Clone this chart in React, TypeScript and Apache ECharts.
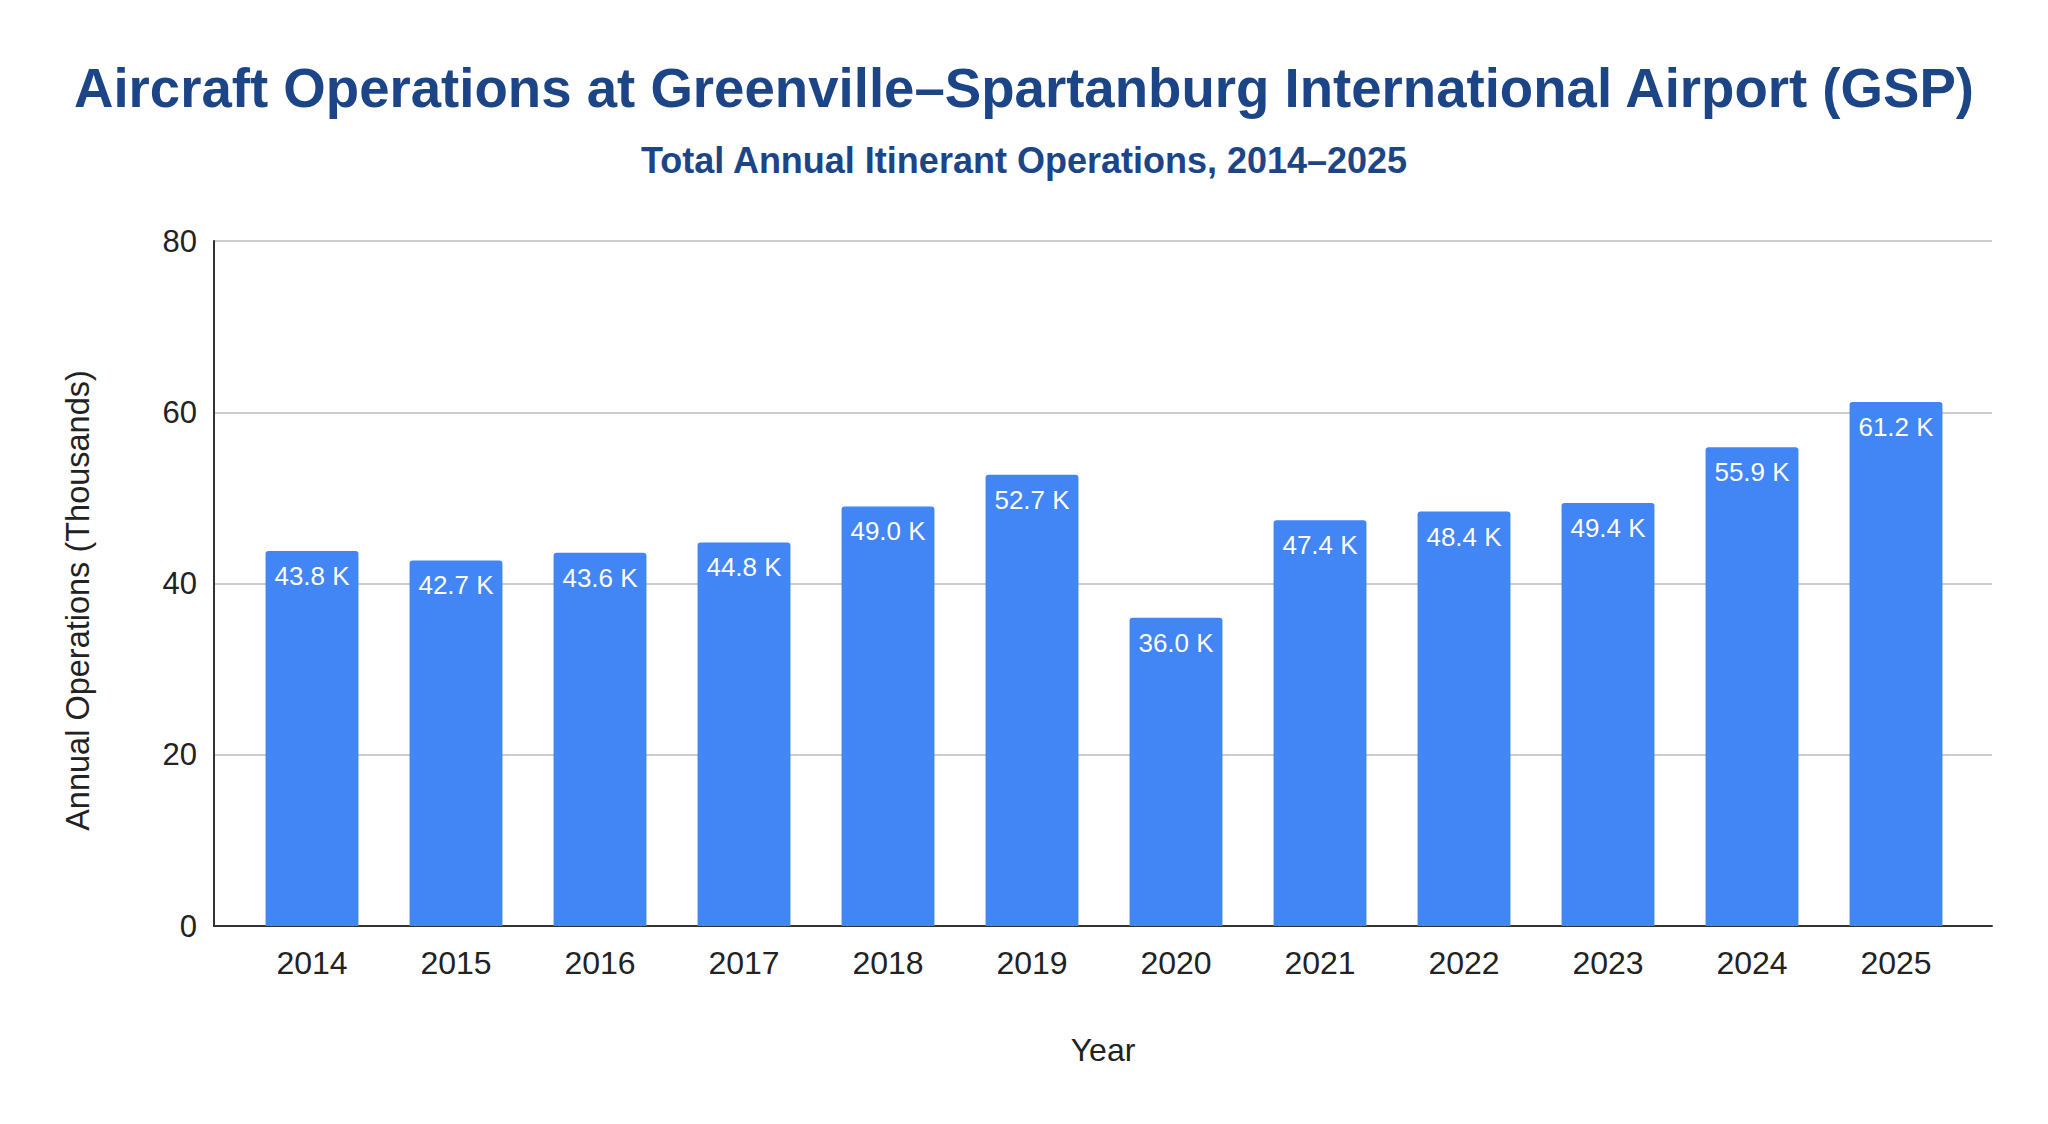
import React, { useEffect, useRef } from "react";
import * as echarts from "echarts";

const years = ["2014", "2015", "2016", "2017", "2018", "2019", "2020", "2021", "2022", "2023", "2024", "2025"];
const operations = [43.8, 42.7, 43.6, 44.8, 49.0, 52.7, 36.0, 47.4, 48.4, 49.4, 55.9, 61.2];
const yTicks = { min: 0, max: 80, interval: 20 };

const titleText = "Aircraft Operations at Greenville–Spartanburg International Airport (GSP)";
const subtitleText = "Total Annual Itinerant Operations, 2014–2025";
const yAxisName = "Annual Operations (Thousands)";
const xAxisName = "Year";

const FONT = "'Liberation Sans', Arial, Helvetica, sans-serif";

export default function App() {
  const ref = useRef<HTMLDivElement>(null);
  useEffect(() => {
    if (!ref.current) return;
    const chart = echarts.init(ref.current, undefined, { renderer: "svg" });
    const gridTop = 241;
    const gridBottom = 198;
    chart.setOption({
      animation: false,
      backgroundColor: "#ffffff",
      textStyle: { fontFamily: FONT },
      title: [
        {
          text: titleText,
          left: "center",
          top: 56,
          textStyle: { fontFamily: FONT, fontSize: 54.6, fontWeight: "bold", color: "#1c4587" },
        },
        {
          text: subtitleText,
          left: "center",
          top: 137,
          textStyle: { fontFamily: FONT, fontSize: 36, fontWeight: "bold", color: "#1c4587" },
        },
      ],
      grid: [
        { left: 214, right: 56, top: gridTop, bottom: gridBottom },
        { left: 240, right: 80, top: gridTop, bottom: gridBottom },
      ],
      xAxis: [
        {
          type: "category",
          gridIndex: 0,
          data: years,
          axisLine: { show: true, lineStyle: { color: "#333333", width: 2 } },
          axisTick: { show: false },
          axisLabel: { show: false },
          splitLine: { show: false },
          name: xAxisName,
          nameLocation: "middle",
          nameGap: 108,
          nameTextStyle: { fontFamily: FONT, fontSize: 32, color: "#222222" },
        },
        {
          type: "category",
          gridIndex: 1,
          data: years,
          axisLine: { show: false },
          axisTick: { show: false },
          axisLabel: { show: true, fontFamily: FONT, fontSize: 32, color: "#222222", margin: 21 },
          splitLine: { show: false },
        },
      ],
      yAxis: [
        {
          type: "value",
          gridIndex: 0,
          min: yTicks.min,
          max: yTicks.max,
          interval: yTicks.interval,
          axisLine: { show: true, lineStyle: { color: "#333333", width: 2 } },
          axisTick: { show: false },
          axisLabel: { fontFamily: FONT, fontSize: 31, color: "#222222", margin: 17 },
          splitLine: { show: true, lineStyle: { color: "#cccccc", width: 2 } },
          name: yAxisName,
          nameLocation: "middle",
          nameGap: 120,
          nameRotate: 90,
          nameTextStyle: { fontFamily: FONT, fontSize: 32.5, color: "#222222", padding: [0, 34, 0, 0] },
        },
        {
          type: "value",
          gridIndex: 1,
          min: yTicks.min,
          max: yTicks.max,
          interval: yTicks.interval,
          show: false,
        },
      ],
      series: [
        {
          type: "bar",
          xAxisIndex: 1,
          yAxisIndex: 1,
          data: operations,
          barCategoryGap: "35.5%",
          itemStyle: { color: "#4285f4", borderRadius: [3, 3, 0, 0] },
          label: {
            show: true,
            position: "insideTop",
            distance: 12,
            color: "#ffffff",
            fontFamily: FONT,
            fontSize: 26,
            formatter: (p: any) => `${Number(p.value).toFixed(1)} K`,
          },
        },
      ],
    });
    return () => chart.dispose();
  }, []);
  return (
    <div
      ref={ref}
      style={{ position: "fixed", left: 0, top: 0, width: 2048, height: 1124, background: "#fff" }}
    />
  );
}
